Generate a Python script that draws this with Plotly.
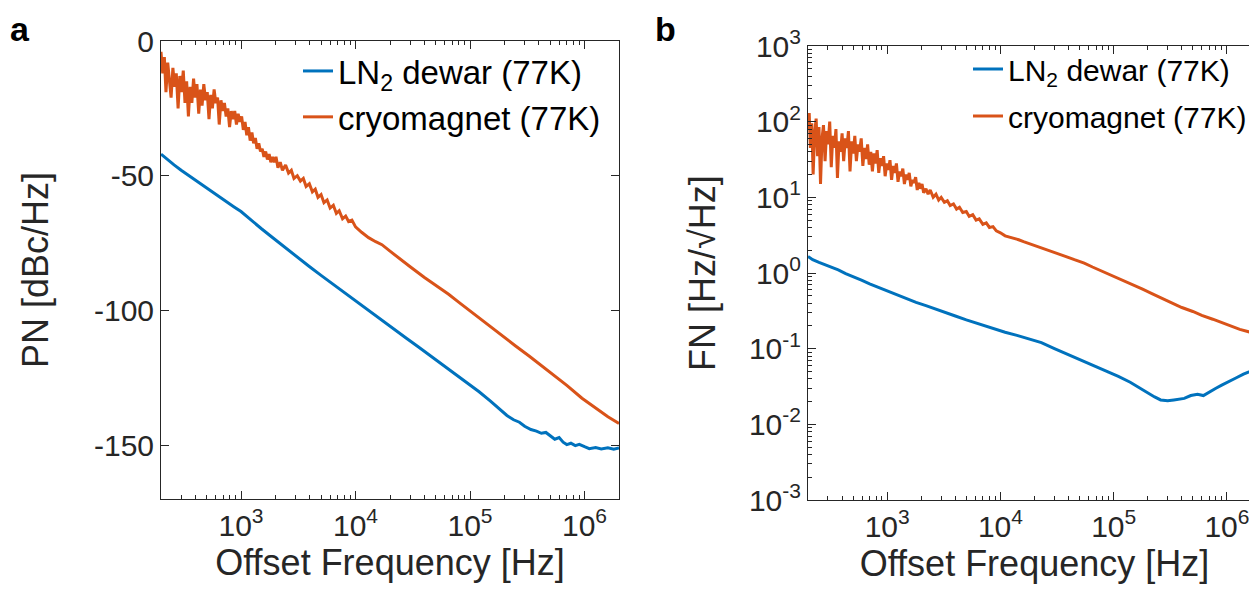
import plotly.graph_objects as go
import math

# ---------------- data ----------------
# Panel a: phase noise PN [dBc/Hz]
pn_blue_f = [200, 230, 260, 300, 350, 400, 470, 550, 650, 750, 870, 1000, 1200, 1500, 1800,
             2200, 2700, 3300, 4000, 5000, 6000, 7500, 9000, 10000, 13000, 17000, 22000, 28000,
             35000, 45000, 60000, 75000, 90000, 100000, 120000, 150000, 180000, 210000, 240000,
             270000, 300000, 340000, 380000, 420000, 460000, 500000, 550000, 600000, 650000,
             700000, 760000, 830000, 900000, 1000000, 1100000, 1250000, 1400000, 1600000,
             1800000, 2000000]
pn_blue = [-42.0, -44.3, -46.0, -48.0, -50.0, -51.8, -53.8, -55.8, -57.9, -59.7, -61.6, -63.3,
           -66.3, -69.6, -72.3, -75.3, -78.2, -81.1, -83.9, -87.0, -89.5, -92.6, -95.1, -96.5,
           -100.2, -103.7, -107.1, -110.4, -113.4, -116.8, -120.7, -123.6, -126.2, -127.5,
           -130.2, -133.6, -136.6, -139.0, -140.6, -141.5, -143.0, -144.2, -144.8, -145.6,
           -145.3, -146.6, -147.8, -147.2, -148.9, -149.8, -149.3, -150.2, -149.7, -150.6,
           -151.3, -150.9, -151.4, -151.0, -151.5, -151.1]

pn_orange_f = [200, 207, 214, 221, 229, 237, 245, 254, 263, 272, 282, 292, 302, 313, 324, 335,
               347, 359, 372, 385, 398, 412, 427, 442, 457, 473, 490, 507, 525, 543, 562, 582,
               602, 624, 645, 668, 692, 716, 741, 767, 794, 822, 851, 881, 912, 944, 977, 1012,
               1047, 1084, 1122, 1161, 1202, 1245, 1288, 1334, 1380, 1429, 1479, 1531, 1585,
               1641, 1700, 1760, 1820, 1885, 1950, 2020, 2100, 2200, 2300, 2450, 2600, 2750,
               2900, 3100, 3300, 3500, 3700, 3950, 4200, 4450, 4700, 5000, 5300, 5650, 6000,
               6400, 6800, 7200, 7700, 8200, 8700, 9300, 10000, 11300, 13000, 15000, 17000,
               20000, 25000, 30000, 40000, 50000, 65000, 80000, 100000, 120000, 150000, 200000,
               250000, 330000, 490000, 700000, 950000, 1300000, 1600000, 2000000]
pn_orange = [-4, -12, -6, -19, -8, -14, -21, -10, -17, -12, -25, -13, -19, -11, -23, -15, -28,
             -17, -23, -14, -21, -16, -27, -18, -24, -16, -22, -19, -29, -20, -25, -18, -23, -21,
             -31, -22, -26, -23, -28, -25, -32, -26, -29, -26, -31, -27, -30, -28, -33, -30, -35,
             -32, -37, -34, -38, -36, -40, -38, -41, -40, -43, -41, -44, -42, -45, -43, -45,
             -43, -47, -45, -48, -46, -49, -48, -51, -50, -52, -51, -54, -53, -56, -55, -58,
             -57, -60, -59, -62, -61, -64, -63, -66, -65, -67, -66.5, -69, -71, -73, -74.5,
             -75.6, -78, -81.3, -83.8, -87.8, -90.5, -94, -97, -100.2, -102.8, -106, -110.2,
             -113.2, -117, -122.7, -127.8, -132.6, -136.8, -139.5, -142.0]

# Panel b: frequency noise FN [Hz/sqrt(Hz)]
fn_blue_f = [200, 220, 250, 280, 320, 370, 430, 500, 600, 700, 850, 1000, 1200, 1500, 1800,
             2200, 2700, 3300, 4000, 5000, 6000, 7500, 9000, 11000, 14000, 18000, 23000, 30000,
             40000, 55000, 70000, 90000, 110000, 140000, 170000, 200000, 230000, 260000, 300000,
             340000, 380000, 420000, 480000, 550000, 620000, 700000, 800000, 900000, 1000000,
             1200000, 1400000, 1700000, 2000000]
fn_blue = [1.65, 1.5, 1.38, 1.3, 1.2, 1.1, 0.98, 0.9, 0.8, 0.72, 0.64, 0.58, 0.52, 0.45, 0.41,
           0.37, 0.33, 0.30, 0.27, 0.24, 0.22, 0.20, 0.18, 0.165, 0.15, 0.135, 0.12, 0.10,
           0.083, 0.068, 0.058, 0.049, 0.043, 0.036, 0.030, 0.026, 0.023, 0.021, 0.0205, 0.021,
           0.0215, 0.022, 0.024, 0.025, 0.024, 0.027, 0.030, 0.033, 0.036, 0.041, 0.046, 0.052,
           0.058]

fn_orange_f = [200, 205, 210, 216, 222, 229, 236, 243, 250, 258, 266, 274, 283, 292, 301, 311,
               321, 331, 342, 353, 364, 376, 388, 400, 413, 427, 441, 455, 470, 486, 502, 518,
               535, 553, 571, 590, 610, 630, 651, 672, 694, 717, 741, 765, 790, 816, 843, 871,
               900, 930, 960, 992, 1025, 1059, 1094, 1130, 1168, 1207, 1247, 1288, 1331, 1375,
               1420, 1467, 1516, 1566, 1618, 1672, 1727, 1784, 1843, 1904, 1967, 2032, 2100,
               2200, 2300, 2400, 2550, 2700, 2850, 3000, 3200, 3400, 3600, 3850, 4100, 4350,
               4650, 5000, 5300, 5700, 6100, 6500, 7000, 7500, 8000, 8600, 9200, 10000, 11000,
               12000, 13000, 14500, 16000, 18000, 20000, 23000, 27000, 32000, 38000, 45000,
               55000, 65000, 80000, 100000, 120000, 150000, 180000, 220000, 270000, 330000,
               400000, 500000, 600000, 750000, 900000, 1100000, 1300000, 1600000, 2000000]
fn_orange = [80, 130, 45, 95, 20, 70, 110, 35, 85, 15, 60, 90, 30, 75, 50, 100, 25, 65, 45, 80,
             18, 55, 40, 70, 30, 60, 45, 75, 22, 55, 38, 65, 30, 50, 40, 60, 26, 45, 32, 50, 27,
             40, 22, 38, 28, 42, 21, 33, 26, 35, 19, 28, 23, 31, 17, 26, 21, 28, 16, 22, 19, 24,
             15, 20, 17, 21, 14, 17, 15.5, 18.5, 12.5, 15.5, 13, 15, 11.5, 13, 11, 12.5, 10,
             11, 9.2, 10, 8.6, 9, 7.8, 8.2, 7.0, 7.4, 6.3, 6.5, 5.6, 5.9, 5.0, 5.2, 4.4, 4.6,
             4.0, 4.1, 3.6, 3.4, 3.1, 3.0, 2.85, 2.75, 2.6, 2.45, 2.3, 2.15, 2.0, 1.8, 1.65, 1.5,
             1.35, 1.2, 1.05, 0.9, 0.8, 0.69, 0.61, 0.53, 0.46, 0.40, 0.35, 0.31, 0.275, 0.245,
             0.22, 0.20, 0.18, 0.165, 0.15]

series_names = ["LN<sub>2</sub> dewar (77K)", "cryomagnet (77K)"]
series_colors = ["#0072BD", "#D95319"]

x_major = [1e3, 1e4, 1e5, 1e6]
x_major_text = ["10<sup>3</sup>", "10<sup>4</sup>", "10<sup>5</sup>", "10<sup>6</sup>"]
x_minor = [m * 10 ** e for e in range(2, 7) for m in range(2, 10) if 200 <= m * 10 ** e <= 2e6]
pn_ticks = [0, -50, -100, -150]
pn_ticktext = ["0", "-50", "-100", "-150"]
fn_major = [1e-3, 1e-2, 1e-1, 1e0, 1e1, 1e2, 1e3]
fn_major_text = ["10<sup>-3</sup>", "10<sup>-2</sup>", "10<sup>-1</sup>", "10<sup>0</sup>",
                 "10<sup>1</sup>", "10<sup>2</sup>", "10<sup>3</sup>"]
fn_minor = [m * 10.0 ** e for e in range(-3, 3) for m in range(2, 10)]

# ---------------- figure ----------------
W, H = 1257, 596
FONT = "Liberation Sans, Arial, Helvetica, sans-serif"
TXT = "#262626"

fig = go.Figure()
fig.add_trace(go.Scatter(x=pn_blue_f, y=pn_blue, mode="lines", name=series_names[0],
                         line=dict(color=series_colors[0], width=3), xaxis="x", yaxis="y",
                         legend="legend", legendgroup="a1"))
fig.add_trace(go.Scatter(x=pn_orange_f, y=pn_orange, mode="lines", name=series_names[1],
                         line=dict(color=series_colors[1], width=3), xaxis="x", yaxis="y",
                         legend="legend", legendgroup="a2"))
fig.add_trace(go.Scatter(x=fn_blue_f, y=fn_blue, mode="lines", name=series_names[0],
                         line=dict(color=series_colors[0], width=3), xaxis="x2", yaxis="y2",
                         legend="legend2", legendgroup="b1"))
fig.add_trace(go.Scatter(x=fn_orange_f, y=fn_orange, mode="lines", name=series_names[1],
                         line=dict(color=series_colors[1], width=3), xaxis="x2", yaxis="y2",
                         legend="legend2", legendgroup="b2"))

common = dict(showline=True, linecolor=TXT, linewidth=1, mirror="ticks", ticks="inside",
              ticklen=8, tickwidth=1, tickcolor=TXT, showgrid=False, zeroline=False,
              automargin=False, tickfont=dict(family=FONT, size=30, color=TXT))

def px(v, total):
    return v / total

xr = [math.log10(200), math.log10(2e6)]
TITLE_FONT = dict(size=36, family=FONT, color=TXT)

fig.update_layout(
    template="none",
    width=W, height=H, margin=dict(l=0, r=0, t=0, b=0, pad=0),
    paper_bgcolor="white", plot_bgcolor="white",
    font=dict(family=FONT, color=TXT),
    xaxis=dict(common, type="log", range=xr, domain=[px(153, W), px(611, W)],
               tickmode="array", tickvals=x_major, ticktext=x_major_text, anchor="y",
               minor=dict(tickmode="array", tickvals=x_minor, ticks="inside", ticklen=4,
                          tickcolor=TXT, showgrid=False),
               title=dict(text="Offset Frequency [Hz]", font=TITLE_FONT, standoff=4)),
    yaxis=dict(common, range=[-170, 0], domain=[1 - px(491, H), 1 - px(33, H)],
               tickmode="array", tickvals=pn_ticks, ticktext=pn_ticktext, anchor="x",
               title=dict(text="PN [dBc/Hz]", font=TITLE_FONT, standoff=34)),
    xaxis2=dict(common, type="log", range=xr, domain=[px(800, W), px(1253, W)],
                tickmode="array", tickvals=x_major, ticktext=x_major_text, anchor="y2",
                minor=dict(tickmode="array", tickvals=x_minor, ticks="inside", ticklen=4,
                           tickcolor=TXT, showgrid=False),
                title=dict(text="Offset Frequency [Hz]", font=TITLE_FONT, standoff=4)),
    yaxis2=dict(common, type="log", range=[-3, 3], domain=[1 - px(492, H), 1 - px(38, H)],
                tickmode="array", tickvals=fn_major, ticktext=fn_major_text, anchor="x2",
                minor=dict(tickmode="array", tickvals=fn_minor, ticks="inside", ticklen=4,
                           tickcolor=TXT, showgrid=False),
                title=dict(text="FN [Hz/√Hz]", font=TITLE_FONT, standoff=22)),
    legend=dict(x=px(290, W), y=1 - px(35, H), xanchor="left", yanchor="top",
                bgcolor="rgba(0,0,0,0)", font=dict(size=33, family=FONT, color="black"),
                itemwidth=30, tracegroupgap=0, borderwidth=0),
    legend2=dict(x=px(960, W), y=1 - px(35, H), xanchor="left", yanchor="top",
                 bgcolor="rgba(0,0,0,0)", font=dict(size=30, family=FONT, color="black"),
                 itemwidth=30, tracegroupgap=5, borderwidth=0),
    showlegend=True,
    annotations=[
        dict(text="<b>a</b>", x=0, y=1, xref="paper", yref="paper",
             xanchor="left", yanchor="top", showarrow=False,
             font=dict(size=34, family=FONT, color="black")),
        dict(text="<b>b</b>", x=px(645, W), y=1, xref="paper", yref="paper",
             xanchor="left", yanchor="top", showarrow=False,
             font=dict(size=34, family=FONT, color="black")),
    ],
)

fig.write_html("out.html")
